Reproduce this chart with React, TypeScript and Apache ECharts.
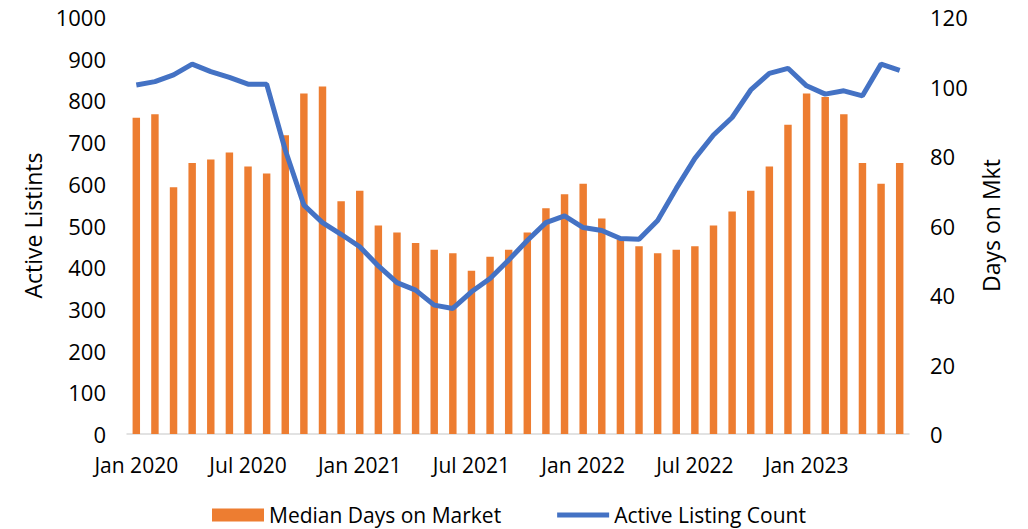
import React, { useEffect, useRef } from "react";
import * as echarts from "echarts";

const months = ["Jan", "Feb", "Mar", "Apr", "May", "Jun", "Jul", "Aug", "Sep", "Oct", "Nov", "Dec"];
const years = [2020, 2021, 2022, 2023];
const categories: string[] = [];
years.forEach((y) => months.forEach((m) => categories.push(`${m} ${y}`)));
const cats = categories.slice(0, 42);

const medianDaysOnMarket = [
  91, 92, 71, 78, 79, 81, 77, 75, 86, 98, 100, 67,
  70, 60, 58, 55, 53, 52, 47, 51, 53, 58, 65, 69,
  72, 62, 56, 54, 52, 53, 54, 60, 64, 70, 77, 89,
  98, 97, 92, 78, 72, 78,
];

const activeListingCount = [
  837, 845, 861, 887, 869, 855, 839, 839, 681, 549, 507, 479,
  449, 403, 363, 345, 309, 301, 341, 373, 417, 464, 507, 523,
  495, 488, 469, 467, 512, 589, 661, 717, 759, 825, 865, 877,
  835, 815, 823, 811, 887, 872,
];

const FONT = "'Segoe UI', 'Open Sans', sans-serif";

export default function App() {
  const ref = useRef<HTMLDivElement>(null);
  useEffect(() => {
    if (!ref.current) return;
    const chart = echarts.init(ref.current, undefined, { renderer: "svg" });
    chart.setOption({
      animation: false,
      textStyle: { fontFamily: FONT, color: "#000" },
      grid: { left: 127, right: 119, top: 17, bottom: 95 },
      legend: {
        left: 207,
        top: 499,
        itemWidth: 52,
        itemHeight: 13,
        itemGap: 56,
        textStyle: { fontFamily: FONT, fontSize: 21, lineHeight: 22, color: "#000" },
        data: [
          { name: "Median Days on Market", icon: "rect" },
          { name: "Active Listing Count", icon: "path://M0,0 H52 V5 H0 Z" },
        ],
      },
      xAxis: {
        type: "category",
        data: cats,
        axisTick: { show: false },
        axisLine: { lineStyle: { color: "#D9D9D9", width: 1.5 } },
        axisLabel: {
          interval: 5,
          margin: 20,
          fontSize: 21,
          color: "#000",
          fontFamily: FONT,
        },
      },
      yAxis: [
        {
          type: "value",
          min: 0,
          max: 1000,
          interval: 100,
          name: "Active Listints",
          nameLocation: "middle",
          nameGap: 80,
          nameTextStyle: { fontSize: 23, color: "#000", fontFamily: FONT },
          splitLine: { show: false },
          axisLine: { show: false },
          axisTick: { show: false },
          axisLabel: {
            margin: 21,
            fontSize: 22,
            color: "#000",
            fontFamily: FONT,
            formatter: (v: number) => String(v),
          },
        },
        {
          type: "value",
          min: 0,
          max: 120,
          interval: 20,
          name: "Days on Mkt",
          nameLocation: "middle",
          nameGap: 70,
          nameRotate: 90,
          nameTextStyle: { fontSize: 23, color: "#000", fontFamily: FONT },
          splitLine: { show: false },
          axisLine: { show: false },
          axisTick: { show: false },
          axisLabel: { margin: 21, fontSize: 22, color: "#000", fontFamily: FONT },
        },
      ],
      series: [
        {
          name: "Median Days on Market",
          type: "bar",
          yAxisIndex: 1,
          data: medianDaysOnMarket,
          barCategoryGap: "60%",
          itemStyle: { color: "#ED7D31" },
        },
        {
          name: "Active Listing Count",
          type: "line",
          yAxisIndex: 0,
          data: activeListingCount,
          symbol: "none",
          lineStyle: { color: "#4472C4", width: 5 },
          itemStyle: { color: "#4472C4" },
        },
      ],
    });
    return () => chart.dispose();
  }, []);
  return <div ref={ref} style={{ width: 1028, height: 529, position: "absolute", left: 0, top: 0 }} />;
}
